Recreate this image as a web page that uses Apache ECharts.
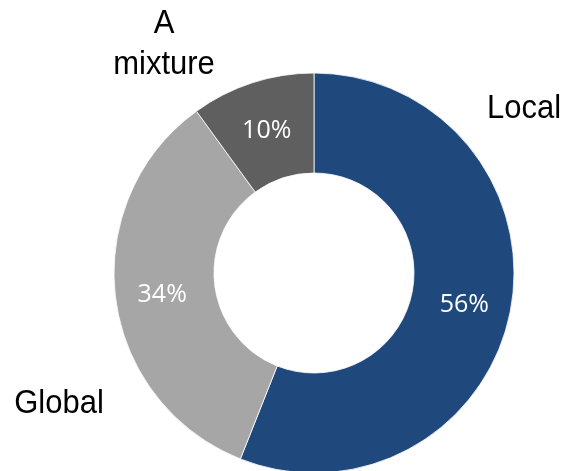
<!DOCTYPE html>
<html>
<head>
<meta charset="utf-8">
<script src="https://cdn.jsdelivr.net/npm/echarts@6/dist/echarts.min.js"></script>
<style>
  html, body { margin: 0; padding: 0; background: #fff; }
  #chart { width: 570px; height: 471px; }
</style>
</head>
<body>
<div id="chart"></div>
<script>
// Share of responses by scope
const categories = ['Local', 'Global', 'A\nmixture'];
const shares = [56, 34, 10];
const colors = ['#1f497d', '#a6a6a6', '#5f5f5f'];

// Where each category name sits around the ring
const namePlacement = [
  { x: 524, y: 109 },
  { x: 59, y: 404 },
  { x: 164, y: 44 }
];

const chart = echarts.init(document.getElementById('chart'), null, { renderer: 'canvas' });

chart.setOption({
  backgroundColor: '#ffffff',
  animation: false,
  series: [{
    type: 'pie',
    center: [314, 273],
    radius: [100, 200],
    startAngle: 90,
    clockwise: true,
    avoidLabelOverlap: false,
    itemStyle: { borderColor: '#ffffff', borderWidth: 0.8 },
    label: {
      show: true,
      position: 'inside',
      formatter: '{c}%',
      color: '#ffffff',
      fontFamily: 'Open Sans',
      fontSize: 25,
      offset: [0, 3]
    },
    labelLine: { show: false },
    emphasis: { disabled: true },
    data: categories.map((name, i) => ({
      name: name,
      value: shares[i],
      itemStyle: { color: colors[i] }
    }))
  }],
  graphic: categories.map((name, i) => ({
    type: 'text',
    x: namePlacement[i].x,
    y: namePlacement[i].y,
    scaleY: 1.08,
    style: {
      text: name,
      fill: '#000000',
      font: '31px "Liberation Sans", Arial, sans-serif',
      lineHeight: 38,
      align: 'center',
      verticalAlign: 'middle'
    }
  }))
});
</script>
</body>
</html>
